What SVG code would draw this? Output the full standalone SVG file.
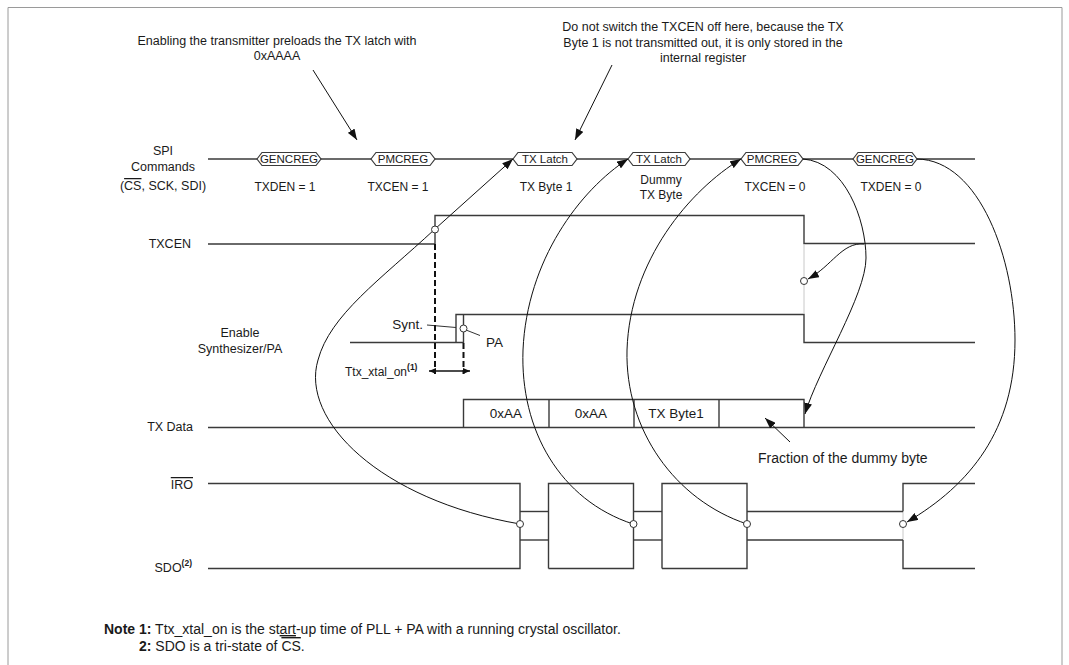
<svg xmlns="http://www.w3.org/2000/svg" width="1069" height="665" viewBox="0 0 1069 665">
<style>
text{font-family:"Liberation Sans",Arial,sans-serif;fill:#1a1a1a}
.ann{font-size:12.5px}
.lbl{font-size:12.5px}
.hx{font-size:11.5px;text-anchor:middle}
.sub{font-size:12px;text-anchor:middle}
.dat{font-size:13.5px;text-anchor:middle}
.sig{fill:none;stroke:#3a3a3a;stroke-width:1.4}
.hexs{fill:#fff;stroke:#3a3a3a;stroke-width:1.2}
.cur{fill:none;stroke:#111;stroke-width:1}
.ghost{fill:none;stroke:#c8c8c8;stroke-width:1}
.dot{fill:#fff;stroke:#333;stroke-width:1}
.dash{fill:none;stroke:#111;stroke-width:2;stroke-dasharray:6 3}
.sup{font-size:8.5px;font-weight:bold}
.note{font-size:14px}
</style>
<defs>
<marker id="ah" markerUnits="userSpaceOnUse" markerWidth="12" markerHeight="8" refX="11" refY="4" orient="auto">
<path d="M0,0 L11,4 L0,8 z" fill="#111"/>
</marker>
<marker id="sm" markerUnits="userSpaceOnUse" markerWidth="8" markerHeight="6" refX="7" refY="3" orient="auto-start-reverse">
<path d="M0,0 L7,3 L0,6 z" fill="#111"/>
</marker>
</defs>
<rect x="0" y="0" width="1069" height="665" fill="#fff"/>
<path d="M8,672 V7.5 H1062 V672" fill="none" stroke="#9a9a9a" stroke-width="1"/>

<g id="annotation-enable">
<text class="ann" x="277" y="45" text-anchor="middle">Enabling the transmitter preloads the TX latch with</text>
<text class="ann" x="277" y="60" text-anchor="middle">0xAAAA</text>
</g>
<g id="annotation-txcen">
<text class="ann" x="703" y="31" text-anchor="middle">Do not switch the TXCEN off here, because the TX</text>
<text class="ann" x="703" y="47" text-anchor="middle">Byte 1 is not transmitted out, it is only stored in the</text>
<text class="ann" x="703" y="62" text-anchor="middle">internal register</text>
</g>

<g id="label-spi">
<text class="lbl" x="163" y="155" text-anchor="middle">SPI</text>
<text class="lbl" x="163" y="171" text-anchor="middle">Commands</text>
<text class="lbl" x="163" y="190" text-anchor="middle">(<tspan text-decoration="overline">CS</tspan>, SCK, SDI)</text>
</g>

<g id="spi-bus">
<line class="sig" x1="208" y1="159" x2="975" y2="159"/>
</g>
<g id="hex-gencreg1">
<polygon class="hexs" points="257,159 262,152.5 316,152.5 321,159 316,165.5 262,165.5"/>
<text class="hx" x="289" y="163">GENCREG</text>
<text class="sub" x="285" y="191">TXDEN = 1</text>
</g>
<g id="hex-pmcreg1">
<polygon class="hexs" points="371,159 376,152.5 430,152.5 435,159 430,165.5 376,165.5"/>
<text class="hx" x="403" y="163">PMCREG</text>
<text class="sub" x="398" y="191">TXCEN = 1</text>
</g>
<g id="hex-txlatch1">
<polygon class="hexs" points="513,159 518,152.5 572,152.5 577,159 572,165.5 518,165.5"/>
<text class="hx" x="545" y="163">TX Latch</text>
<text class="sub" x="546" y="191">TX Byte 1</text>
</g>
<g id="hex-txlatch2">
<polygon class="hexs" points="628,159 633,152.5 685,152.5 690,159 685,165.5 633,165.5"/>
<text class="hx" x="659" y="163">TX Latch</text>
<text class="sub" x="661" y="184">Dummy</text>
<text class="sub" x="661" y="199">TX Byte</text>
</g>
<g id="hex-pmcreg2">
<polygon class="hexs" points="741,159 746,152.5 798,152.5 803,159 798,165.5 746,165.5"/>
<text class="hx" x="772" y="163">PMCREG</text>
<text class="sub" x="775" y="191">TXCEN = 0</text>
</g>
<g id="hex-gencreg2">
<polygon class="hexs" points="853,159 858,152.5 912,152.5 917,159 912,165.5 858,165.5"/>
<text class="hx" x="885" y="163">GENCREG</text>
<text class="sub" x="891" y="191">TXDEN = 0</text>
</g>

<g id="signal-txcen">
<text class="lbl" x="191" y="248" text-anchor="end">TXCEN</text>
<polyline class="sig" points="208,244 435,244 435,215.5 804,215.5 804,243.5 975,243.5"/>
</g>

<g id="signal-synth">
<text class="lbl" x="240" y="337" text-anchor="middle">Enable</text>
<text class="lbl" x="240" y="353" text-anchor="middle">Synthesizer/PA</text>
<polyline class="sig" points="350,342.5 463.5,342.5 463.5,314.5"/>
<polyline class="sig" points="456,342.5 456,314.5 804,314.5 804,342.5 975,342.5"/>
<line x1="804" y1="244" x2="804" y2="314" class="ghost"/>
<text x="423" y="329" text-anchor="end" style="font-size:13.5px">Synt.</text>
<line x1="427" y1="325" x2="456" y2="327.5" stroke="#333" stroke-width="1"/>
<text x="486" y="347" style="font-size:13.5px">PA</text>
<line x1="466" y1="330" x2="480" y2="335.5" stroke="#333" stroke-width="1"/>
<line class="dash" x1="435" y1="244" x2="435" y2="374"/>
<line class="dash" x1="463.5" y1="343" x2="463.5" y2="374"/>
<line x1="429" y1="371" x2="470" y2="371" stroke="#111" stroke-width="1.5" marker-start="url(#sm)" marker-end="url(#sm)"/>
<text x="345" y="376" style="font-size:12px">Ttx_xtal_on<tspan class="sup" dy="-6">(1)</tspan></text>
</g>

<g id="signal-txdata">
<text class="lbl" x="193" y="431" text-anchor="end">TX Data</text>
<line class="sig" x1="208" y1="427.5" x2="975" y2="427.5"/>
<polyline class="sig" points="463.5,427.5 463.5,399.5 804,399.5 804,427.5"/>
<line class="sig" x1="549" y1="399.5" x2="549" y2="427.5"/>
<line class="sig" x1="634" y1="399.5" x2="634" y2="427.5"/>
<line class="sig" x1="719" y1="399.5" x2="719" y2="427.5"/>
<text class="dat" x="506" y="418">0xAA</text>
<text class="dat" x="591" y="418">0xAA</text>
<text class="dat" x="676" y="418">TX Byte1</text>
<text x="758" y="463" style="font-size:14px">Fraction of the dummy byte</text>
</g>

<g id="signal-iro">
<text class="lbl" x="193" y="489" text-anchor="end" text-decoration="overline">IRO</text>
<polyline class="sig" points="208,483.5 520,483.5 520,568.5 208,568.5"/>
<polyline class="sig" points="548.5,568.5 548.5,483.5 633.5,483.5 633.5,568.5 548.5,568.5"/>
<polyline class="sig" points="662,568.5 662,483.5 747,483.5 747,568.5 662,568.5"/>
<polyline class="sig" points="975,483.5 903,483.5 903,511.5"/>
<polyline class="sig" points="975,568.5 903,568.5 903,540"/>
<line class="ghost" x1="903" y1="511.5" x2="903" y2="540"/>
<line class="sig" x1="520" y1="511.5" x2="548.5" y2="511.5"/>
<line class="sig" x1="520" y1="540" x2="548.5" y2="540"/>
<line class="sig" x1="633.5" y1="511.5" x2="662" y2="511.5"/>
<line class="sig" x1="633.5" y1="540" x2="662" y2="540"/>
<line class="sig" x1="747" y1="511.5" x2="903" y2="511.5"/>
<line class="sig" x1="747" y1="540" x2="903" y2="540"/>
</g>
<g id="signal-sdo">
<text class="lbl" x="192" y="572" text-anchor="end">SDO<tspan class="sup" dy="-6">(2)</tspan></text>
</g>

<g id="connectors">
<line class="cur" x1="313" y1="70" x2="357" y2="140" marker-end="url(#ah)"/>
<line class="cur" x1="612" y1="65" x2="575" y2="140" marker-end="url(#ah)"/>
<path class="cur" d="M520,524 C380,500 300,420 318,360 C330,315 380,280 435,229 L513,159" marker-end="url(#ah)"/>
<path class="cur" d="M633,524 C560,500 520,430 523,350 C527,260 580,190 628,159" marker-end="url(#ah)"/>
<path class="cur" d="M747,524 C675,500 625,430 627,350 C630,260 690,190 741,159" marker-end="url(#ah)"/>
<path class="cur" d="M803,159 C845,162 866,220 866,258 C866,295 818,370 805,414" marker-end="url(#ah)"/>
<path class="cur" d="M864,244 C842,242 832,266 808,279" marker-end="url(#ah)"/>
<path class="cur" d="M917,159 C980,160 1015,260 1015,340 C1015,430 970,485 907,522" marker-end="url(#ah)"/>
<line class="cur" x1="790" y1="442" x2="765" y2="418" marker-end="url(#ah)"/>
</g>

<g id="dots">
<circle class="dot" cx="435" cy="229.5" r="3.5"/>
<circle class="dot" cx="804" cy="281" r="3.5"/>
<circle class="dot" cx="463.5" cy="328.5" r="3.5"/>
<circle class="dot" cx="520" cy="524" r="3.5"/>
<circle class="dot" cx="633.5" cy="524" r="3.5"/>
<circle class="dot" cx="747" cy="524" r="3.5"/>
<circle class="dot" cx="903" cy="524" r="3.5"/>
</g>

<g id="notes">
<text class="note" x="104" y="634"><tspan font-weight="bold">Note 1:</tspan> Ttx_xtal_on is the st<tspan text-decoration="underline">art</tspan>-up time of PLL + PA with a running crystal oscillator.</text>
<text class="note" x="139" y="651"><tspan font-weight="bold">2:</tspan> SDO is a tri-state of <tspan text-decoration="overline">CS</tspan>.</text>
</g>
</svg>
